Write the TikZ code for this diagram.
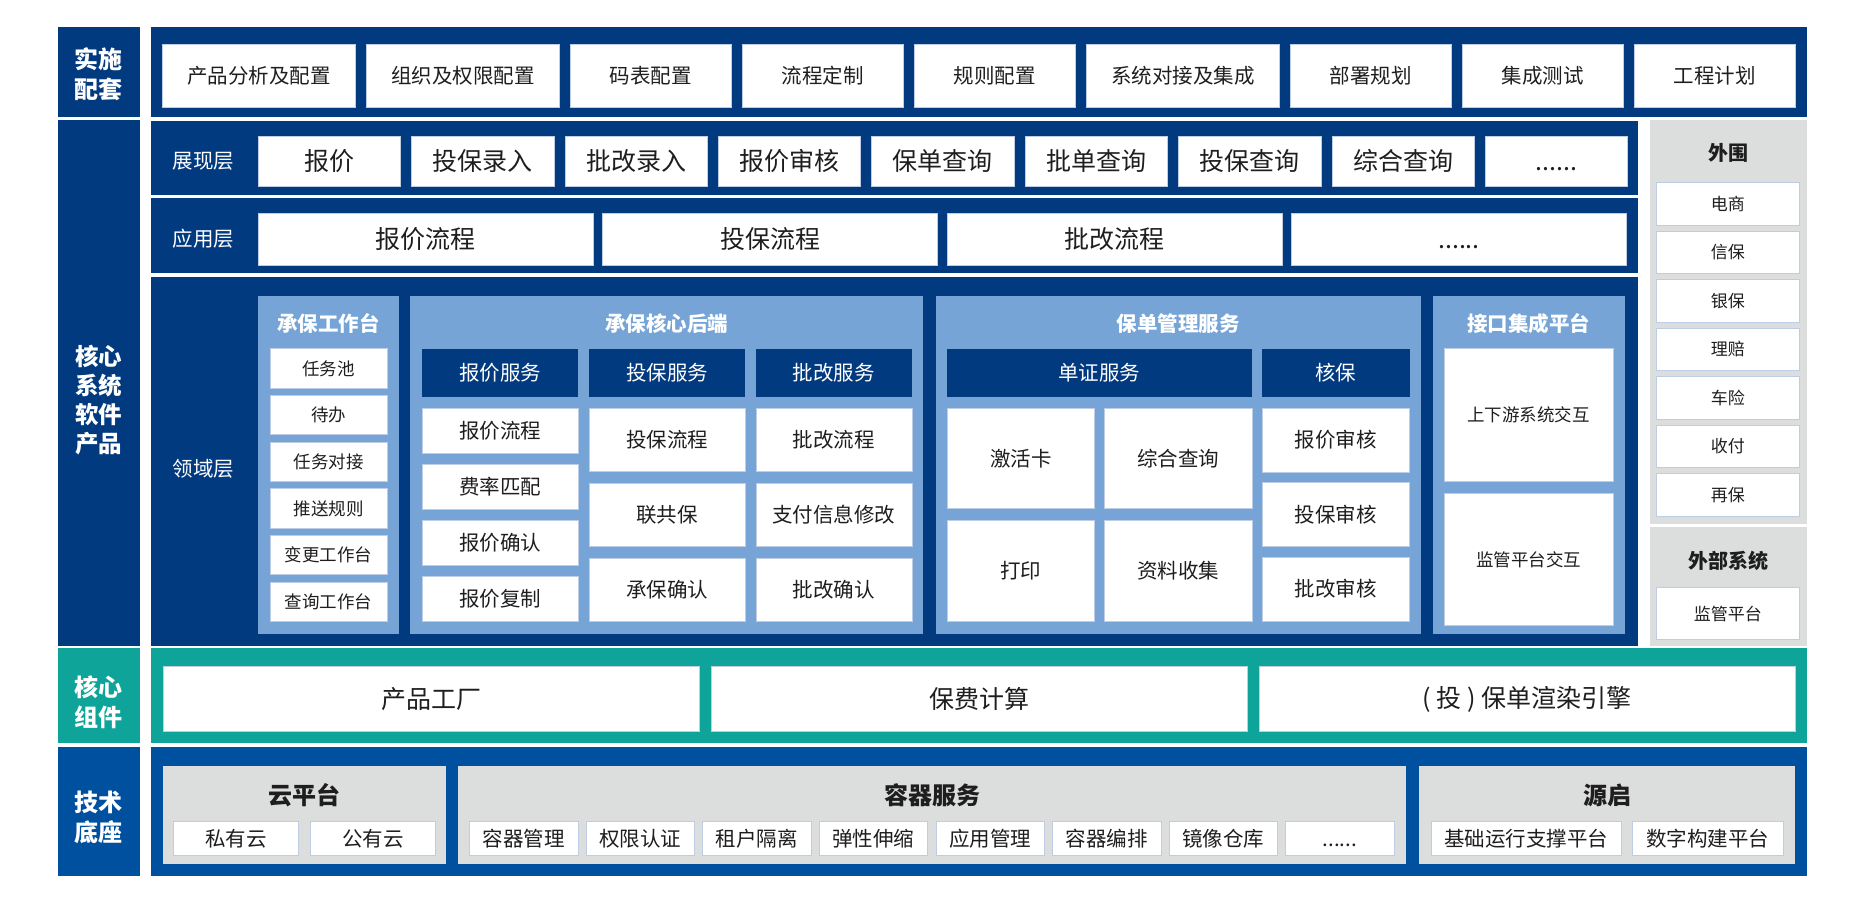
\documentclass[tikz,border=0pt]{standalone}
\usepackage{fontspec}
\setmainfont{Noto Sans CJK SC}
\usepackage{tikz}
\usetikzlibrary{positioning}

\definecolor{navy}{RGB}{2,58,128}
\definecolor{techblue}{RGB}{0,80,160}
\definecolor{coreteal}{RGB}{14,164,154}
\definecolor{panelblue}{RGB}{118,164,214}
\definecolor{sidegray}{RGB}{220,221,221}
\definecolor{boxedge}{RGB}{190,205,228}
\definecolor{ink}{RGB}{30,30,30}
\newcommand{\moredots}{\vphantom{报}......}

\begin{document}
\begin{tikzpicture}[x=1pt,y=-1pt,
  wbox/.style={draw=boxedge,line width=0.6pt,fill=white,text=ink,inner sep=0pt,outer sep=0pt,font=\fontsize{20.5}{24}\selectfont},
  hbox/.style={fill=navy,text=white,inner sep=0pt,outer sep=0pt,font=\fontsize{20.5}{24}\selectfont},
  smallbox/.style={wbox,font=\fontsize{17.5}{20}\selectfont},
  rowlbl/.style={text=white,font=\bfseries\fontsize{24}{30}\selectfont,align=center,inner sep=0pt},
  layerlbl/.style={text=white,font=\fontsize{20.5}{24}\selectfont,inner sep=0pt},
  ptitle/.style={text=white,font=\bfseries\fontsize{20.5}{24}\selectfont,inner sep=0pt},
  gtitle/.style={text=ink,font=\bfseries\fontsize{24}{28}\selectfont,inner sep=0pt}]
\useasboundingbox (0,0) rectangle (1867,922);
% Implementation row
\fill[navy] (58,27.3) rectangle (139.5,117.3);
\node[rowlbl] (impllbl) at (98.75,74) {实施\\配套};
\fill[navy] (151,27.3) rectangle (1806.7,117.3);
\node[wbox,minimum width=192.5pt,minimum height=63.7pt,anchor=west] (impl1) at (162.5,75.85) {产品分析及配置};
\foreach \n/\p/\w/\t in {2/1/192.5/组织及权限配置,3/2/160.5/码表配置,4/3/160.5/流程定制,5/4/160.5/规则配置,6/5/192.5/系统对接及集成,7/6/160.5/部署规划,8/7/160.5/集成测试,9/8/160.5/工程计划}
  \node[wbox,minimum width=\w pt,minimum height=63.7pt,right=11.5pt of impl\p] (impl\n) {\t};
% Core system label
\fill[navy] (58,120) rectangle (139.5,645.7);
\node[rowlbl,font=\bfseries\fontsize{23.5}{29.2}\selectfont] (corelbl) at (98.75,400) {核心\\系统\\软件\\产品};
% Presentation layer
\fill[navy] (151,120.7) rectangle (1638,194.7);
\node[layerlbl] (showlbl) at (203.5,161.5) {展现层};
\foreach \n/\t in {0/报价,1/投保录入,2/批改录入,3/报价审核,4/保单查询,5/批单查询,6/投保查询,7/综合查询,8/\moredots}
  \node[wbox,minimum width=142.4pt,minimum height=50.3pt,font=\fontsize{25}{28}\selectfont] (show\n) at ({329.2+\n*153.4},161.15) {\t};
% Application layer
\fill[navy] (151,198) rectangle (1638,273.3);
\node[layerlbl] (applbl) at (203.5,239) {应用层};
\foreach \n/\t in {0/报价流程,1/投保流程,2/批改流程,3/\moredots}
  \node[wbox,minimum width=335pt,minimum height=51.9pt,font=\fontsize{25}{28}\selectfont] (app\n) at ({425.5+\n*344.5},239.25) {\t};
% Domain layer
\fill[navy] (151,277.3) rectangle (1638,646);
\node[layerlbl] (domlbl) at (203.5,469) {领域层};
% underwriting desk
\fill[panelblue] (257.9,295.7) rectangle (398.7,634.3);
\node[ptitle] (deskttl) at (328.3,323.3) {承保工作台};
\foreach \n/\t in {0/任务池,1/待办,2/任务对接,3/推送规则,4/变更工作台,5/查询工作台}
  \node[smallbox,minimum width=116.9pt,minimum height=39.3pt] (desk\n) at (328.55,{368.35+\n*46.67}) {\t};
% underwriting core backend
\fill[panelblue] (410.4,295.7) rectangle (923.2,634.3);
\node[ptitle] (backttl) at (666.8,323.3) {承保核心后端};
\foreach \c/\x/\t in {quote/500/报价服务,apply/667/投保服务,endo/833.9/批改服务}
  \node[hbox,minimum width=155.8pt,minimum height=48pt] (\c hd) at (\x,372.7) {\t};
\foreach \n/\t in {0/报价流程,1/费率匹配,2/报价确认,3/报价复制}
  \node[wbox,minimum width=155.8pt,minimum height=45pt] (quote\n) at (500,{430.5+\n*56.1}) {\t};
\foreach \n/\t in {0/投保流程,1/联共保,2/承保确认}
  \node[wbox,minimum width=155.8pt,minimum height=63pt] (apply\n) at (667,{439.5+\n*75.15}) {\t};
\foreach \n/\t in {0/批改流程,1/支付信息修改,2/批改确认}
  \node[wbox,minimum width=155.8pt,minimum height=63pt] (endo\n) at (833.9,{439.5+\n*75.15}) {\t};
% policy management
\fill[panelblue] (935.5,295.7) rectangle (1421.1,634.3);
\node[ptitle] (polttl) at (1178.3,323.3) {保单管理服务};
\node[hbox,minimum width=304.8pt,minimum height=48pt] (dochd) at (1099.4,372.7) {单证服务};
\node[hbox,minimum width=147.5pt,minimum height=48pt] (checkhd) at (1335.85,372.7) {核保};
\foreach \n/\x/\y/\t in {0/1020.75/458.35/激活卡,1/1178.05/458.35/综合查询,2/1020.75/570.85/打印,3/1178.05/570.85/资料收集}
  \node[wbox,minimum width=147.5pt,minimum height=100.5pt] (doc\n) at (\x,\y) {\t};
\foreach \n/\t in {0/报价审核,1/投保审核,2/批改审核}
  \node[wbox,minimum width=147.5pt,minimum height=64.3pt] (check\n) at (1335.85,{440.15+\n*74.4}) {\t};
% interface platform
\fill[panelblue] (1432.6,295.7) rectangle (1624.9,634.3);
\node[ptitle] (intttl) at (1528.75,323.3) {接口集成平台};
\node[smallbox,minimum width=169.4pt,minimum height=132.6pt] (int0) at (1528.7,415) {上下游系统交互};
\node[smallbox,minimum width=169.4pt,minimum height=132.6pt] (int1) at (1528.7,559.35) {监管平台交互};
% Peripheral systems
\fill[sidegray] (1649.5,120) rectangle (1806.7,524.3);
\node[gtitle,font=\bfseries\fontsize{20}{24}\selectfont] (perittl) at (1728,153.3) {外围};
\foreach \n/\t in {0/电商,1/信保,2/银保,3/理赔,4/车险,5/收付,6/再保}
  \node[smallbox,font=\fontsize{17}{20}\selectfont,minimum width=142.9pt,minimum height=42.5pt] (peri\n) at (1727.95,{203.55+\n*48.57}) {\t};
\fill[sidegray] (1649.5,527.3) rectangle (1806.7,646);
\node[gtitle,font=\bfseries\fontsize{20}{24}\selectfont] (extttl) at (1728,561) {外部系统};
\node[smallbox,font=\fontsize{17}{20}\selectfont,minimum width=142.9pt,minimum height=52pt] (ext0) at (1727.95,613.7) {监管平台};
% Core components
\fill[coreteal] (58,648.3) rectangle (139.5,743.3);
\node[rowlbl] (complbl) at (98.75,702) {核心\\组件};
\fill[coreteal] (151,648.3) rectangle (1806.7,743.3);
\foreach \n/\t in {0/产品工厂,1/保费计算,2/(~投~)~保单渲染引擎}
  \node[wbox,minimum width=536.5pt,minimum height=64.6pt,font=\fontsize{25}{28}\selectfont] (comp\n) at ({431.05+\n*548.1},699) {\t};
% Technical base
\fill[techblue] (58,747.3) rectangle (139.5,876);
\node[rowlbl] (techlbl) at (98.75,817.5) {技术\\底座};
\fill[techblue] (151,747.3) rectangle (1806.7,876);
\fill[sidegray] (162.8,765.7) rectangle (445.8,864);
\fill[sidegray] (457.9,765.7) rectangle (1406.4,864);
\fill[sidegray] (1419,765.7) rectangle (1795,864);
\node[gtitle] (cloudttl) at (304.3,795) {云平台};
\node[gtitle] (contttl) at (932.15,795) {容器服务};
\node[gtitle] (srcttl) at (1607,795) {源启};
\node[wbox,minimum width=124.6pt,minimum height=34.7pt] (cloud0) at (236,838.35) {私有云};
\node[wbox,minimum width=125pt,minimum height=34.7pt] (cloud1) at (372.95,838.35) {公有云};
\foreach \n/\t in {0/容器管理,1/权限认证,2/租户隔离,3/弹性伸缩,4/应用管理,5/容器编排,6/镜像仓库,7/\moredots}
  \node[wbox,minimum width=108.5pt,minimum height=34.7pt] (cont\n) at ({523.65+\n*116.6},838.35) {\t};
\node[wbox,minimum width=190pt,minimum height=34.7pt] (src0) at (1526.1,838.35) {基础运行支撑平台};
\node[wbox,minimum width=151.5pt,minimum height=34.7pt] (src1) at (1707.75,838.35) {数字构建平台};
\end{tikzpicture}
\end{document}
